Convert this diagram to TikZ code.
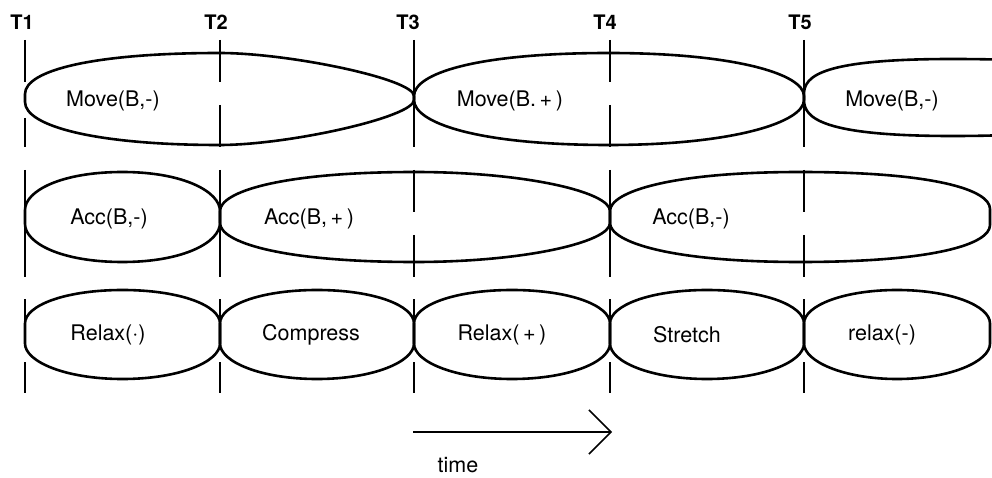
\documentclass[tikz,border=0pt]{standalone}
\usepackage{fontspec}
\setmainfont{TeX Gyre Heros}
\usetikzlibrary{arrows.meta}
\newcommand{\myblob}[8]{%
  \pgfmathsetmacro\blobmid{(#1+#2)/2}%
  \draw[blobline] (#1,{\yc-#3}) .. controls (#1,{\yc-#3-#4}) and ({#1+#5},\yT) .. (\blobmid,\yT)
    .. controls ({#2-#8},\yT) and (#2,{\yc-#6-#7}) .. (#2,{\yc-#6})
    -- (#2,{\yc+#6}) .. controls (#2,{\yc+#6+#7}) and ({#2-#8},\yB) .. (\blobmid,\yB)
    .. controls ({#1+#5},\yB) and (#1,{\yc+#3+#4}) .. (#1,{\yc+#3}) -- cycle;}
\begin{document}
\begin{tikzpicture}[x=1pt,y=-1pt,
  blobline/.style={line width=2.6pt,line join=round},
  tick/.style={line width=1.3pt},
  lbl/.style={font=\fontsize{21.5}{25}\selectfont,inner sep=0pt},
  tlbl/.style={font=\fontsize{20}{24}\selectfont\bfseries,inner sep=0pt},
  timearrow/.style={line width=1.5pt,-{Straight Barb[length=22pt,width=44pt,line width=1.5pt]}}]
\useasboundingbox (0,0) rectangle (992,478);
% time labels
\node[tlbl] (t1) at (22,22) {T1};
\node[tlbl] (t2) at (216,22) {T2};
\node[tlbl] (t3) at (408,22) {T3};
\node[tlbl] (t4) at (605,22) {T4};
\node[tlbl] (t5) at (800,22) {T5};
% vertical lines row 1
\draw[tick] (25,40) -- (25,82) (25,118) -- (25,147);
\draw[tick] (220,40) -- (220,82) (220,105) -- (220,147);
\draw[tick] (414,40) -- (414,147);
\draw[tick] (610,40) -- (610,82) (610,105) -- (610,147);
\draw[tick] (804,40) -- (804,147);
% vertical lines row 2
\draw[tick] (25,170) -- (25,277);
\draw[tick] (220,170) -- (220,277);
\draw[tick] (414,170) -- (414,212) (414,235) -- (414,277);
\draw[tick] (610,170) -- (610,277);
\draw[tick] (804,170) -- (804,212) (804,235) -- (804,277);
% vertical lines row 3
\foreach \x in {25,220,414,610,804}{\draw[tick] (\x,299) -- (\x,321) (\x,362) -- (\x,393);}
% row 1
\def\yT{53}\def\yB{145}\def\yc{98}
\myblob{25}{414}{4}{24}{70}{2}{17}{125}
\myblob{414}{804}{2}{22}{60}{2}{22}{70}
\begin{scope}
\clip (0,0) rectangle (992,478);
\def\yT{59}\def\yB{136}\def\yc{97}
\myblob{804}{1100}{3}{18}{18}{10}{20}{40}
\end{scope}
% row 2
\def\yT{172}\def\yB{262}\def\yc{217}
\myblob{25}{220}{7}{19}{36}{6}{19}{36}
\myblob{220}{610}{6}{19}{60}{6}{19}{85}
\myblob{610}{990}{6}{19}{60}{8}{19}{55}
% row 3
\def\yT{290}\def\yB{379}\def\yc{333.5}
\foreach \a/\b in {25/220,220/414,414/610,610/804,804/990}{\myblob{\a}{\b}{10}{18}{40}{10}{18}{40}}
% labels
\node[lbl] (m1) at (113,101) {Move(B,-)};
\node[lbl] (m2) at (510,101) {Move(B.\,+\,)};
\node[lbl] (m3) at (892,101) {Move(B,-)};
\node[lbl] (a1) at (109,219) {Acc(B,-)};
\node[lbl] (a2) at (309,219) {Acc(B,\,+\,)};
\node[lbl] (a3) at (691,219) {Acc(B,-)};
\node[lbl] (r1) at (108,335) {Relax(·)};
\node[lbl] (r2) at (311,335) {Compress};
\node[lbl] (r3) at (502,335) {Relax(\,+\,)};
\node[lbl] (r4) at (687,335) {Stretch};
\node[lbl] (r5) at (882,335) {relax(-)};
% time arrow
\coordinate (ta) at (413,432);
\coordinate (tb) at (612,432);
\draw[timearrow] (ta) -- (tb);
\node[lbl] (time) at (458,465) {time};
\end{tikzpicture}
\end{document}
